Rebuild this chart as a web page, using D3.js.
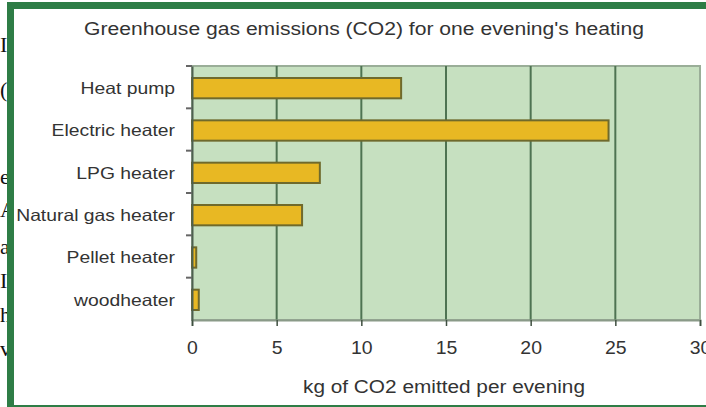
<!DOCTYPE html>
<html><head><meta charset="utf-8">
<script src="https://cdn.jsdelivr.net/npm/d3@7"></script>
<style>body{margin:0;background:#fff;overflow:hidden}svg{display:block}</style>
</head><body>
<svg id="c" width="706" height="407"></svg>
<script>
const categories = ["Heat pump","Electric heater","LPG heater","Natural gas heater","Pellet heater","woodheater"];
const values = [12.35, 24.6, 7.55, 6.5, 0.25, 0.4];
const xTicks = [0,5,10,15,20,25,30];
const title = "Greenhouse gas emissions (CO2) for one evening's heating";
const xTitle = "kg of CO2 emitted per evening";
const bgFragments = [["I",52],["(",97],["e",184],["A",217],["a",254],["I",288],["h",322],["v",356]];

const svg = d3.select("#c");
svg.selectAll("text.bg").data(bgFragments).join("text")
  .attr("x", 0).attr("y", d => d[1])
  .attr("font-family","Liberation Serif, Times New Roman, serif").attr("font-size", 22)
  .attr("fill","#111").text(d => d[0]);

svg.append("rect").attr("x",14).attr("y",9).attr("width",720).attr("height",396).attr("fill","#fff");
svg.append("rect").attr("x",7).attr("y",2).attr("width",740).attr("height",7).attr("fill","#2e7d46");
svg.append("rect").attr("x",7).attr("y",2).attr("width",7).attr("height",405).attr("fill","#2e7d46");
svg.append("rect").attr("x",7).attr("y",405).attr("width",740).attr("height",2).attr("fill","#2e7d46");

const L = 192, R = 700, T = 66, B = 320;
const x = d3.scaleLinear().domain([0,30]).range([L,R]);
const y = d3.scaleBand().domain(categories).range([T+1,B+1]).paddingInner(0.52).paddingOuter(0.26);
const yb = d3.scaleBand().domain(categories).range([T,B]);

svg.append("rect").attr("x",L).attr("y",T).attr("width",R-L).attr("height",B-T)
  .attr("fill","#c6e0c0").attr("stroke","#9aae98").attr("stroke-width",2);

svg.append("g").selectAll("line").data(xTicks.slice(1,-1)).join("line")
  .attr("x1", d=>x(d)).attr("x2", d=>x(d)).attr("y1",T).attr("y2",B)
  .attr("stroke","#4e7352").attr("stroke-width",2);

svg.append("g").selectAll("rect").data(categories).join("rect")
  .attr("x", x(0)).attr("y", d=>y(d))
  .attr("width", (d,i)=>x(values[i])-x(0)).attr("height", y.bandwidth())
  .attr("fill","#e8b823").attr("stroke","#6f6a2c").attr("stroke-width",2);

const xa = svg.append("g").attr("transform",`translate(0,${B})`)
  .call(d3.axisBottom(x).tickValues(xTicks).tickSize(6).tickPadding(15));
xa.select(".domain").attr("stroke","#8a9a88").attr("stroke-width",2);
xa.selectAll(".tick line").attr("stroke","#3f4f40").attr("stroke-width",1.5);
xa.selectAll(".tick text").attr("font-family","Liberation Sans, Arial, sans-serif").attr("font-size",18).attr("fill","#333")
  .attr("transform","scale(1.08,1)");

const ya = svg.append("g").attr("transform",`translate(${L},0)`)
  .call(d3.axisLeft(yb).tickSize(0).tickPadding(17));
ya.select(".domain").attr("stroke","#4e6050").attr("stroke-width",2);
ya.selectAll(".tick text").attr("font-family","Liberation Sans, Arial, sans-serif").attr("font-size",16.5).attr("fill","#333")
  .attr("dy","0.42em")
  .each(function(){ const w = this.getComputedTextLength(); d3.select(this).attr("textLength", w*1.17).attr("lengthAdjust","spacingAndGlyphs"); });
svg.append("g").selectAll("line").data(categories).join("line")
  .attr("x1",L-6).attr("x2",L).attr("y1",d=>yb(d)).attr("y2",d=>yb(d))
  .attr("stroke","#666").attr("stroke-width",2);

svg.append("text").attr("x",364).attr("y",35).attr("text-anchor","middle")
  .attr("font-family","Liberation Sans, Arial, sans-serif").attr("font-size",17.5).attr("fill","#333")
  .attr("textLength",560).attr("lengthAdjust","spacingAndGlyphs").text(title);
svg.append("text").attr("x",444).attr("y",393).attr("text-anchor","middle")
  .attr("font-family","Liberation Sans, Arial, sans-serif").attr("font-size",17.5).attr("fill","#333")
  .attr("textLength",282).attr("lengthAdjust","spacingAndGlyphs").text(xTitle);
</script>
</body></html>
